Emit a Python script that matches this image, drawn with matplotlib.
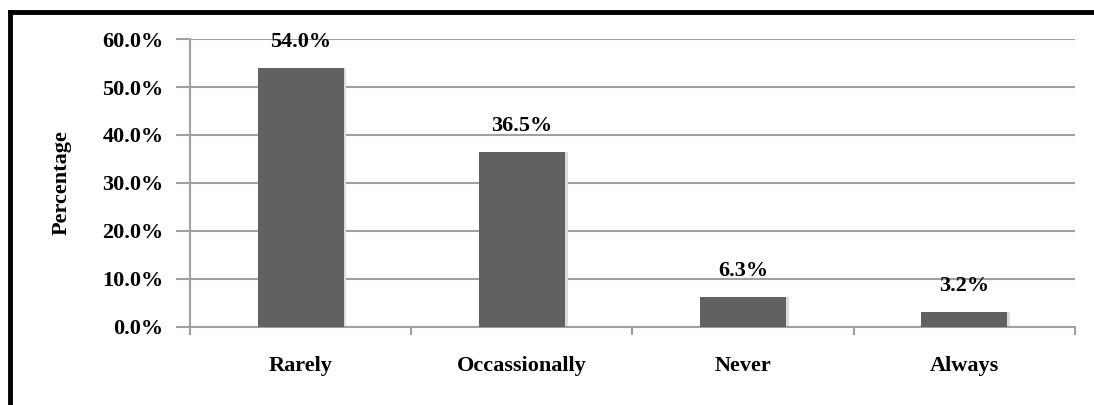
import numpy as np
import matplotlib
matplotlib.use("Agg")
import matplotlib.pyplot as plt
from matplotlib.lines import Line2D

categories = ["Rarely", "Occassionally", "Never", "Always"]
values = [54.0, 36.5, 6.3, 3.2]
yticks = [0, 10, 20, 30, 40, 50, 60]

plt.rcParams['font.family'] = ['Liberation Serif', 'DejaVu Serif']
plt.rcParams['font.weight'] = 'bold'

fig = plt.figure(figsize=(10.94, 4.05), dpi=100)
ax = fig.add_axes([0.1737, 0.1926, 0.8089, 0.7111])

x = np.arange(len(categories))
width = 0.39
grey = '#a0a0a0'

# soft shadow on the right side of each bar
ax.bar(x + 0.012, values, width=width, color='#dcdcdc', zorder=2)
bars = ax.bar(x, values, width=width, color='#616161', zorder=3)

for b, v in zip(bars, values):
    ax.text(b.get_x() + b.get_width() / 2, v + 3.3, f"{v:.1f}%",
            ha='center', va='bottom', fontsize=16, fontweight='bold')

ax.set_xlim(-0.5, len(categories) - 0.5)
ax.set_ylim(0, 60)
ax.set_yticks(yticks)
ax.set_yticklabels([f"{t:.1f}%" for t in yticks], fontsize=16, fontweight='bold')
ax.yaxis.grid(True, color=grey, linewidth=1.5, zorder=0)
ax.set_axisbelow(True)

# category labels centred, ticks at boundaries
ax.set_xticks(x)
ax.set_xticklabels(categories, fontsize=16, fontweight='bold')
ax.set_xticks(np.arange(len(categories) + 1) - 0.5, minor=True)
ax.tick_params(axis='x', which='major', length=0, pad=21)
ax.tick_params(axis='x', which='minor', length=6, color=grey, width=1.5, direction='out')
ax.tick_params(axis='y', length=10, color=grey, width=1.5, pad=9)

ax.set_ylabel("Percentage", fontsize=16, fontweight='bold', labelpad=22)

for s in ['top', 'right']:
    ax.spines[s].set_visible(False)
for s in ['left', 'bottom']:
    ax.spines[s].set_color(grey)
    ax.spines[s].set_linewidth(1.5)

# outer frame, open to the right and bottom
fig.add_artist(Line2D([0.0095, 1.0], [1 - 11.5 / 405, 1 - 11.5 / 405],
                      transform=fig.transFigure, color='black', linewidth=3.5))
fig.add_artist(Line2D([10 / 1094, 10 / 1094], [0.0, 1 - 11.5 / 405],
                      transform=fig.transFigure, color='black', linewidth=3.5))

fig.savefig("out.png", dpi=100)
